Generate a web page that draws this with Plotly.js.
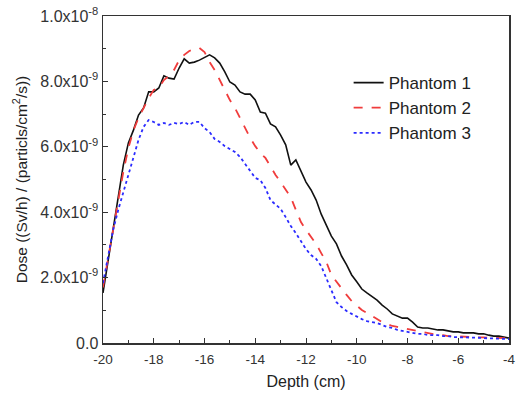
<!DOCTYPE html>
<html>
<head>
<meta charset="utf-8">
<script src="https://cdn.plot.ly/plotly-3.0.1.min.js"></script>
<style>html,body{margin:0;padding:0;background:#fff;}#chart{width:519px;height:393px;}</style>
</head>
<body>
<div id="chart"></div>
<script>
// Depth grid (cm)
const depth = [];
for (let i = 0; i <= 80; i++) depth.push(+(-20 + i * 0.2).toFixed(1));

// Dose values in units of 1e-9 (Sv/h)/(particls/cm^2/s)
const phantom1 = [1.53,2.51,3.46,4.40,5.44,6.12,6.51,6.97,7.19,7.68,7.68,7.80,8.17,8.10,8.07,8.41,8.69,8.56,8.59,8.65,
  8.72,8.81,8.72,8.56,8.29,7.98,7.89,7.68,7.61,7.61,7.43,7.06,7.03,6.70,6.61,6.36,6.06,5.44,5.60,5.23,
  4.92,4.68,4.37,3.94,3.58,3.27,3.03,2.66,2.39,2.08,1.87,1.65,1.53,1.41,1.31,1.16,1.04,0.89,0.83,0.76,
  0.76,0.64,0.49,0.46,0.46,0.43,0.40,0.40,0.37,0.34,0.34,0.31,0.31,0.31,0.28,0.28,0.24,0.21,0.21,0.18,0.15];
const phantom2 = [1.70,2.60,3.52,4.37,5.23,5.96,6.51,6.88,7.19,7.49,7.74,7.80,8.04,8.17,8.35,8.65,8.81,8.93,8.99,9.02,
  8.90,8.59,8.35,8.04,7.74,7.43,7.19,6.88,6.61,6.27,6.02,5.81,5.66,5.38,5.14,4.92,4.68,4.46,4.07,3.70,
  3.46,3.24,3.03,2.75,2.48,2.08,1.87,1.68,1.47,1.28,1.13,1.01,0.92,0.83,0.73,0.64,0.58,0.52,0.49,0.46,
  0.43,0.40,0.37,0.34,0.31,0.28,0.24,0.24,0.21,0.21,0.20,0.18,0.18,0.18,0.17,0.17,0.16,0.16,0.15,0.15,0.15];
const phantom3 = [1.83,2.69,3.46,4.07,4.59,5.14,5.69,6.21,6.61,6.82,6.76,6.67,6.73,6.67,6.73,6.70,6.76,6.67,6.76,6.76,
  6.57,6.45,6.24,6.15,6.02,5.93,5.84,5.69,5.47,5.23,5.05,4.98,4.74,4.37,4.22,4.10,3.85,3.58,3.36,3.12,
  2.87,2.69,2.57,2.35,1.99,1.62,1.25,1.10,0.98,0.89,0.80,0.73,0.67,0.64,0.61,0.55,0.49,0.46,0.40,0.37,
  0.34,0.31,0.28,0.28,0.24,0.24,0.24,0.21,0.21,0.18,0.18,0.18,0.17,0.16,0.16,0.15,0.14,0.14,0.13,0.13,0.12];

const seriesNames = ["Phantom 1", "Phantom 2", "Phantom 3"];
const yTickVals = [0, 2e-9, 4e-9, 6e-9, 8e-9, 1e-8];
const yTickText = ["0.0", "2.0x10<sup>-9</sup>", "4.0x10<sup>-9</sup>", "6.0x10<sup>-9</sup>", "8.0x10<sup>-9</sup>", "1.0x10<sup>-8</sup>"];
const xTickVals = [-20, -18, -16, -14, -12, -10, -8, -6, -4];
const xTickText = ["-20", "-18", "-16", "-14", "-12", "-10", "-8", "-6", "-4"];

const scale = v => v.map(d => d * 1e-9);
const styles = [
  {color: "#111111", width: 1.6, dash: "solid"},
  {color: "#f03c3c", width: 1.8, dash: "dash"},
  {color: "#2b2bff", width: 1.8, dash: "dot"}
];
const ys = [phantom1, phantom2, phantom3];
const traces = ys.map((y, i) => ({
  x: depth, y: scale(y), type: "scatter", mode: "lines", name: seriesNames[i],
  line: styles[i]
}));

const fam = "Liberation Sans, Arial, sans-serif";
const layout = {
  width: 519, height: 393,
  margin: {l: 103, r: 10, t: 16, b: 50},
  paper_bgcolor: "#fff", plot_bgcolor: "#fff",
  font: {family: fam, size: 13, color: "#333"},
  showlegend: true,
  legend: {x: 0.605, y: 0.85, xanchor: "left", yanchor: "top", bgcolor: "rgba(0,0,0,0)",
    font: {family: fam, size: 17, color: "#222"}, tracegroupgap: 0},
  xaxis: {
    range: [-20, -4], tickvals: xTickVals, ticktext: xTickText,
    ticks: "inside", ticklen: 5, tickcolor: "#333", showline: true, linecolor: "#333", linewidth: 1.5,
    mirror: true, showgrid: false, zeroline: false, ticklabelstandoff: 3,
    minor: {dtick: 1, ticks: "inside", ticklen: 3, tickcolor: "#333", showgrid: false},
    title: {text: "Depth (cm)", font: {size: 16, color: "#222"}, standoff: 10},
    tickfont: {size: 13.5, color: "#333"}
  },
  yaxis: {
    range: [0, 1e-8], tickvals: yTickVals, ticktext: yTickText,
    ticks: "inside", ticklen: 5, tickcolor: "#333", showline: true, linecolor: "#333", linewidth: 1.5,
    mirror: true, showgrid: false, zeroline: false,
    minor: {dtick: 1e-9, ticks: "inside", ticklen: 3, tickcolor: "#333", showgrid: false},
    title: {text: "Dose ((Sv/h) / (particls/cm<sup>2</sup>/s))", font: {size: 15.5, color: "#222"}, standoff: 9},
    tickfont: {size: 16, color: "#333"}
  }
};
Plotly.newPlot("chart", traces, layout, {displayModeBar: false, staticPlot: true});
</script>
</body>
</html>
